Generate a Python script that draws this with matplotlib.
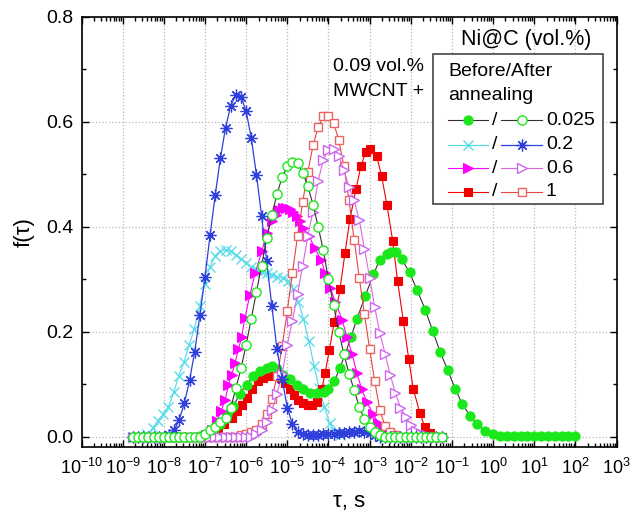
import numpy as np
import matplotlib
matplotlib.use("Agg")
import matplotlib.pyplot as plt
from matplotlib.patches import Rectangle
from matplotlib.lines import Line2D
from matplotlib.ticker import LogLocator, NullFormatter, MultipleLocator, FormatStrFormatter

plt.rcParams['font.family'] = ['Liberation Sans', 'DejaVu Sans']
plt.rcParams['mathtext.default'] = 'regular'
plt.rcParams['axes.unicode_minus'] = False

# ---- data -----------------------------------------------------------------
# annealed samples share one relaxation-time grid (8 points per decade)
log_tau_after = np.linspace(-8.75, -1.25, 61)

# 0.025 vol.% Ni@C
log_tau_025_before = [-7.12, -6.96, -6.80, -6.63, -6.47, -6.31, -6.15, -5.99, -5.83, -5.66,
                      -5.50, -5.38, -5.26, -5.10, -4.93, -4.77, -4.61, -4.45, -4.29, -4.12,
                      -4.00, -3.86, -3.72, -3.59, -3.45, -3.31, -3.11, -2.91, -2.75, -2.58,
                      -2.48, -2.36, -2.22, -2.03, -1.85, -1.65, -1.47, -1.29, -1.10, -0.92,
                      -0.75, -0.56, -0.38, -0.19, 0.0, 0.17, 0.33, 0.5, 0.67, 0.83,
                      1.0, 1.17, 1.33, 1.5, 1.67, 1.83, 2.0]
f_025_before = [0.001, 0.003, 0.009, 0.023, 0.042, 0.058, 0.082, 0.099, 0.115, 0.124,
                0.131, 0.134, 0.129, 0.118, 0.109, 0.099, 0.090, 0.083, 0.083, 0.084,
                0.090, 0.105, 0.131, 0.158, 0.190, 0.224, 0.267, 0.309, 0.337, 0.348,
                0.352, 0.351, 0.338, 0.313, 0.280, 0.242, 0.202, 0.162, 0.126, 0.091,
                0.062, 0.040, 0.023, 0.010, 0.004, 0.001, 0.001, 0.001, 0.001, 0.001,
                0.001, 0.001, 0.001, 0.001, 0.001, 0.001, 0.001]
f_025_after = [0.0] * 14 + [
    0.004, 0.013, 0.019, 0.027, 0.036, 0.055, 0.092, 0.130, 0.175, 0.225,
    0.276, 0.326, 0.378, 0.423, 0.462, 0.495, 0.515, 0.523, 0.521, 0.503,
    0.477, 0.442, 0.400, 0.355, 0.300, 0.250, 0.200, 0.157, 0.120, 0.088,
    0.056, 0.033, 0.018, 0.008, 0.003] + [0.0] * 12

# 0.2 vol.% Ni@C
log_tau_02_before = [-8.65, -8.52, -8.40, -8.27, -8.14, -8.02, -7.89, -7.76, -7.64, -7.51,
                     -7.39, -7.26, -7.13, -7.01, -6.88, -6.75, -6.63, -6.50, -6.38, -6.25,
                     -6.12, -6.00, -5.87, -5.74, -5.62, -5.49, -5.36, -5.24, -5.11, -4.99,
                     -4.86, -4.73, -4.61, -4.48, -4.35, -4.23, -4.10, -3.97, -3.85, -3.72]
f_02_before = [0.0, 0.0, 0.004, 0.016, 0.030, 0.042, 0.056, 0.084, 0.115, 0.142,
               0.174, 0.205, 0.249, 0.290, 0.323, 0.345, 0.354, 0.356, 0.353, 0.346,
               0.339, 0.331, 0.323, 0.317, 0.313, 0.311, 0.308, 0.305, 0.302, 0.297,
               0.281, 0.257, 0.225, 0.183, 0.135, 0.093, 0.057, 0.025, 0.008, 0.002]
f_02_after = [0.0] * 7 + [
    0.003, 0.012, 0.032, 0.064, 0.107, 0.162, 0.231, 0.304, 0.385, 0.461,
    0.531, 0.589, 0.631, 0.651, 0.648, 0.620, 0.569, 0.499, 0.421, 0.334,
    0.248, 0.166, 0.109, 0.055, 0.023, 0.008, 0.004, 0.003, 0.003, 0.003,
    0.004, 0.004, 0.005, 0.006, 0.007, 0.008, 0.009, 0.010, 0.009, 0.006,
    0.002] + [0.0] * 13

# 0.6 vol.% Ni@C
log_tau_06_before = [-6.97, -6.84, -6.72, -6.61, -6.51, -6.43, -6.35, -6.27, -6.19, -6.11,
                     -6.03, -5.91, -5.78, -5.62, -5.50, -5.38, -5.28, -5.19, -5.11, -5.02,
                     -4.94, -4.85, -4.77, -4.69, -4.61, -4.47, -4.33, -4.18, -4.08, -3.96,
                     -3.83, -3.67, -3.55, -3.43, -3.31, -3.19, -3.07, -2.91, -2.79, -2.67,
                     -2.55, -2.43, -2.31]
f_06_before = [0.002, 0.013, 0.029, 0.048, 0.070, 0.099, 0.118, 0.140, 0.166, 0.189,
               0.226, 0.270, 0.312, 0.353, 0.388, 0.410, 0.423, 0.431, 0.436, 0.436,
               0.433, 0.428, 0.420, 0.410, 0.398, 0.382, 0.359, 0.337, 0.312, 0.284,
               0.256, 0.223, 0.190, 0.158, 0.121, 0.090, 0.066, 0.042, 0.026, 0.015,
               0.009, 0.005, 0.002]
f_06_after = [0.0] * 24 + [
    0.004, 0.012, 0.027, 0.050, 0.082, 0.120, 0.175, 0.221, 0.272, 0.326,
    0.383, 0.429, 0.488, 0.527, 0.547, 0.548, 0.535, 0.508, 0.475, 0.450,
    0.412, 0.358, 0.303, 0.246, 0.197, 0.158, 0.118, 0.083, 0.055, 0.038,
    0.022, 0.010, 0.005, 0.002] + [0.0] * 3

# 1 vol.% Ni@C
log_tau_1_before = [-6.97, -6.83, -6.68, -6.54, -6.35, -6.23, -6.11, -5.99, -5.86, -5.70,
                    -5.58, -5.42, -5.26, -5.15, -5.06, -4.93, -4.84, -4.73, -4.61, -4.50,
                    -4.40, -4.29, -4.16, -4.08, -3.98, -3.86, -3.72, -3.60, -3.48, -3.33,
                    -3.21, -3.09, -2.99, -2.83, -2.71, -2.58, -2.44, -2.32, -2.18, -2.05,
                    -1.94, -1.78, -1.66, -1.54]
f_1_before = [0.002, 0.006, 0.014, 0.024, 0.036, 0.048, 0.061, 0.074, 0.090, 0.105,
              0.112, 0.115, 0.118, 0.112, 0.102, 0.090, 0.080, 0.070, 0.064, 0.061,
              0.061, 0.066, 0.090, 0.122, 0.164, 0.218, 0.281, 0.349, 0.414, 0.472,
              0.516, 0.543, 0.548, 0.535, 0.497, 0.442, 0.373, 0.296, 0.220, 0.148,
              0.091, 0.045, 0.018, 0.006]
f_1_after = [0.0] * 21 + [
    0.002, 0.004, 0.008, 0.013, 0.023, 0.043, 0.072, 0.115, 0.172, 0.240,
    0.312, 0.383, 0.448, 0.505, 0.555, 0.590, 0.611, 0.612, 0.598, 0.565,
    0.515, 0.450, 0.375, 0.302, 0.233, 0.167, 0.105, 0.050, 0.020, 0.008,
    0.003] + [0.0] * 9

legend_labels = ['0.025', '0.2', '0.6', '1']
x_ticks_exp = list(range(-10, 4))

# ---- styles -----------------------------------------------------------------
GREEN = '#1BE81B'
CYAN = '#5CDCEB'
BLUE = '#2F3FDB'
MAGENTA = '#FF00FF'
VIOLET = '#CC66EE'
RED = '#F00000'
LIGHTRED = '#EC6464'

st_025_b = dict(color='#333333', lw=0.8, marker='o', ms=6.6, mfc=GREEN, mec=GREEN, mew=0.8)
st_025_a = dict(color='#333333', lw=0.8, marker='o', ms=6.6, mfc='white', mec=GREEN, mew=1.0)
st_02_b = dict(color=CYAN, lw=0.9, marker='x', ms=7.5, mec=CYAN, mew=1.0)
st_02_a = dict(color=BLUE, lw=0.9, marker=(8, 2, 0), ms=8.5, mec=BLUE, mew=0.9)
st_06_b = dict(color=MAGENTA, lw=0.8, marker='>', ms=6.8, mfc=MAGENTA, mec=MAGENTA, mew=0.8)
st_06_a = dict(color='#DD66DD', lw=0.8, marker='>', ms=7.2, mfc='white', mec=VIOLET, mew=1.0)
st_1_b = dict(color=RED, lw=0.8, marker='s', ms=5.8, mfc=RED, mec=RED, mew=0.8)
st_1_a = dict(color='#E84444', lw=0.8, marker='s', ms=6.2, mfc='white', mec=LIGHTRED, mew=1.0)

fig = plt.figure(figsize=(6.33, 5.29), dpi=100)
ax = fig.add_axes([0.1288, 0.155, 0.8452, 0.813])

tau_after = 10.0 ** log_tau_after
ax.plot(10.0 ** np.array(log_tau_02_before), f_02_before, zorder=2, **st_02_b)
ax.plot(10.0 ** np.array(log_tau_1_before), f_1_before, zorder=3, **st_1_b)
ax.plot(10.0 ** np.array(log_tau_025_before), f_025_before, zorder=4, **st_025_b)
ax.plot(10.0 ** np.array(log_tau_06_before), f_06_before, zorder=5, **st_06_b)
ax.plot(tau_after, f_1_after, zorder=6, **st_1_a)
ax.plot(tau_after, f_06_after, zorder=7, **st_06_a)
ax.plot(tau_after, f_02_after, zorder=8, **st_02_a)
ax.plot(tau_after, f_02_after, ls='none', marker='o', ms=2.2, mfc=BLUE, mec=BLUE, zorder=8)
ax.plot(tau_after, f_025_after, zorder=9, **st_025_a)

# ---- axes -------------------------------------------------------------------
ax.set_xscale('log')
ax.set_xlim(10.0 ** x_ticks_exp[0], 10.0 ** x_ticks_exp[-1])
ax.set_ylim(-0.02, 0.8)
ax.xaxis.set_major_locator(LogLocator(base=10, numticks=30))
ax.xaxis.set_minor_locator(LogLocator(base=10, subs=np.arange(2, 10), numticks=200))
ax.xaxis.set_minor_formatter(NullFormatter())
ax.yaxis.set_major_locator(MultipleLocator(0.2))
ax.yaxis.set_minor_locator(MultipleLocator(0.1))
ax.yaxis.set_major_formatter(FormatStrFormatter('%.1f'))
ax.tick_params(which='both', direction='in', top=True, right=True, width=1.0)
ax.tick_params(which='major', length=5)
ax.tick_params(which='minor', length=3)
ax.tick_params(axis='x', which='major', pad=8, labelsize=13)
ax.tick_params(axis='y', which='major', pad=6, labelsize=14)
ax.grid(True, which='major', linestyle=':', color='#b8b8b8', lw=0.9, zorder=0)
for s in ax.spines.values():
    s.set_linewidth(1.2)

ax.set_xlabel('τ, s', fontsize=16, labelpad=9)
ax.set_ylabel('f(τ)', fontsize=16, labelpad=8)

# ---- annotations & legend ------------------------------------------------------
ax.text(0.470, 0.884, '0.09 vol.%', transform=ax.transAxes, fontsize=14, va='center', ha='left')
ax.text(0.470, 0.826, 'MWCNT +', transform=ax.transAxes, fontsize=14, va='center', ha='left')
ax.text(0.831, 0.948, 'Ni@C (vol.%)', transform=ax.transAxes, fontsize=15.5, va='center', ha='center')

box = Rectangle((0.657, 0.565), 0.318, 0.349, transform=ax.transAxes, fc='white',
                ec='#444444', lw=1.2, zorder=20)
ax.add_patch(box)
ax.text(0.685, 0.873, 'Before/After', transform=ax.transAxes, fontsize=14, va='center',
        ha='left', zorder=21)
ax.text(0.685, 0.818, 'annealing', transform=ax.transAxes, fontsize=14, va='center',
        ha='left', zorder=21)

rows_y = [0.760, 0.703, 0.648, 0.593]
pairs = [(st_025_b, st_025_a), (st_02_b, st_02_a), (st_06_b, st_06_a), (st_1_b, st_1_a)]
line_b = (0.685, 0.760)
line_a = (0.784, 0.861)
marker_keys = ('marker', 'ms', 'mfc', 'mec', 'mew')
for y, (sb, sa), lab in zip(rows_y, pairs, legend_labels):
    for seg, st in ((line_b, sb), (line_a, sa)):
        ax.add_line(Line2D(seg, [y, y], transform=ax.transAxes, zorder=21,
                           **{k: v for k, v in st.items() if k not in marker_keys}))
        ax.add_line(Line2D([sum(seg) / 2], [y], transform=ax.transAxes, zorder=22, ls='none',
                           **{k: v for k, v in st.items() if k in marker_keys}))
    ax.text(0.772, y, '/', transform=ax.transAxes, fontsize=14, va='center', ha='center', zorder=22)
    ax.text(0.868, y, lab, transform=ax.transAxes, fontsize=14, va='center', ha='left', zorder=22)

fig.savefig('out.png', dpi=100)
